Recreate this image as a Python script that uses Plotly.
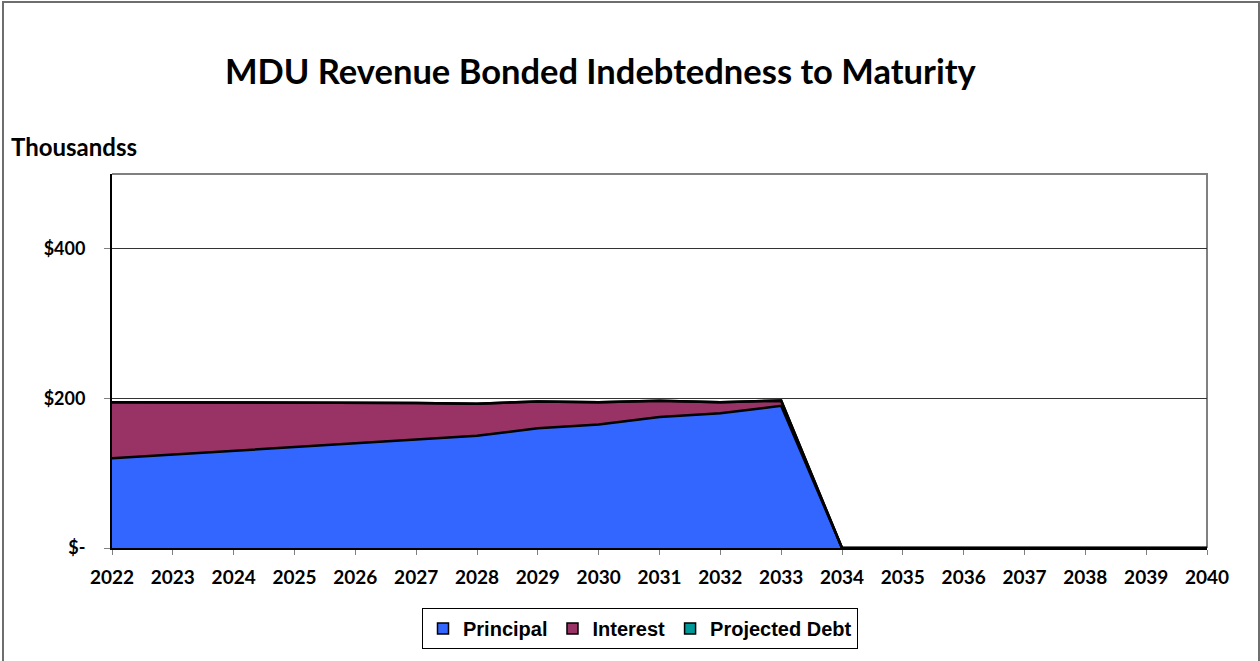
import plotly.graph_objects as go

# Debt service schedule, in thousands of dollars
years = list(range(2022, 2041))
principal = [120, 125, 130, 135, 140, 145, 150, 160, 165, 175, 180, 190,
             0, 0, 0, 0, 0, 0, 0]
interest = [75, 70, 65, 59.5, 54, 49, 43, 36, 30, 22, 15, 7,
            0, 0, 0, 0, 0, 0, 0]
projected_debt = [0] * 19

y_ticks = [0, 200, 400]
y_tick_labels = ["$-", "$200", "$400"]

series = [
    ("Principal", principal, "#3366FF"),
    ("Interest", interest, "#993366"),
    ("Projected Debt", projected_debt, "#009999"),
]

fig = go.Figure()
for name, vals, color in series:
    fig.add_trace(go.Scatter(
        x=years, y=vals, name=name, mode="lines",
        stackgroup="debt", fillcolor=color,
        line=dict(color="#000000", width=2.5),
        hoverinfo="skip", showlegend=False, legendgroup=name,
    ))
# square swatches for the legend
for name, vals, color in series:
    fig.add_trace(go.Scatter(
        x=[None], y=[None], name=name, mode="markers",
        marker=dict(symbol="square", size=11, color=color,
                    line=dict(color="#000000", width=1.5)),
        legendgroup=name, showlegend=True, hoverinfo="skip",
    ))

W, H = 1260, 661
L, R, T, B = 112, 53, 174, 113
pw, ph = W - L - R, H - T - B


def px_x(px):
    return (px - L) / pw


def px_y(py):
    return (H - B - py) / ph


fig.update_layout(
    width=W, height=H,
    margin=dict(l=L, r=R, t=T, b=B, pad=0),
    paper_bgcolor="#FFFFFF", plot_bgcolor="#FFFFFF",
    font=dict(family="Lato", color="#000000"),
    showlegend=True,
    legend=dict(
        orientation="h", x=px_x(640), xanchor="center",
        y=px_y(608), yanchor="top",
        font=dict(family="Liberation Sans", size=20, color="#000000",
                  weight="bold"),
        bordercolor="#000000", borderwidth=1,
        traceorder="normal", itemwidth=30,
        bgcolor="#FFFFFF",
    ),
    xaxis=dict(
        range=[2022, 2040], tickmode="array", tickvals=years,
        ticktext=[str(y) for y in years],
        tickfont=dict(family="Lato", size=19, color="#000000", weight="bold"),
        showgrid=False, zeroline=False,
        showline=True, linecolor="#000000", linewidth=2,
        ticks="outside", ticklen=5, tickcolor="#808080", tickwidth=1,
        ticklabelstandoff=6,
    ),
    yaxis=dict(
        range=[0, 500], tickmode="array", tickvals=y_ticks,
        ticktext=y_tick_labels,
        tickfont=dict(family="Lato", size=18, color="#000000", weight="bold"),
        showgrid=True, gridcolor="#333333", gridwidth=1,
        zeroline=False,
        showline=True, linecolor="#000000", linewidth=2,
        ticks="outside", ticklen=6, tickcolor="#808080", tickwidth=1,
        ticklabelstandoff=15,
    ),
    annotations=[
        dict(text="<b>MDU Revenue Bonded Indebtedness to Maturity</b>",
             xref="paper", yref="paper", x=px_x(601), y=px_y(70),
             xanchor="center", yanchor="middle", showarrow=False,
             font=dict(family="Lato", size=34.5, color="#000000")),
        dict(text="<b>Thousandss</b>",
             xref="paper", yref="paper", x=px_x(9), y=px_y(147),
             xanchor="left", yanchor="middle", showarrow=False,
             font=dict(family="Lato", size=24, color="#000000")),
    ],
    shapes=[
        # plot area top and right edges
        dict(type="path", xref="paper", yref="paper",
             path="M 0 1 L 1 1 L 1 0",
             line=dict(color="#808080", width=2), layer="below"),
        # outer chart frame
        dict(type="path", xref="paper", yref="paper",
             path=(f"M {px_x(3)} {px_y(700)} L {px_x(3)} {px_y(2)} "
                   f"L {px_x(1259)} {px_y(2)} L {px_x(1259)} {px_y(700)}"),
             line=dict(color="#6E6E6E", width=2), layer="above"),
    ],
)

fig.write_html("out.html")
